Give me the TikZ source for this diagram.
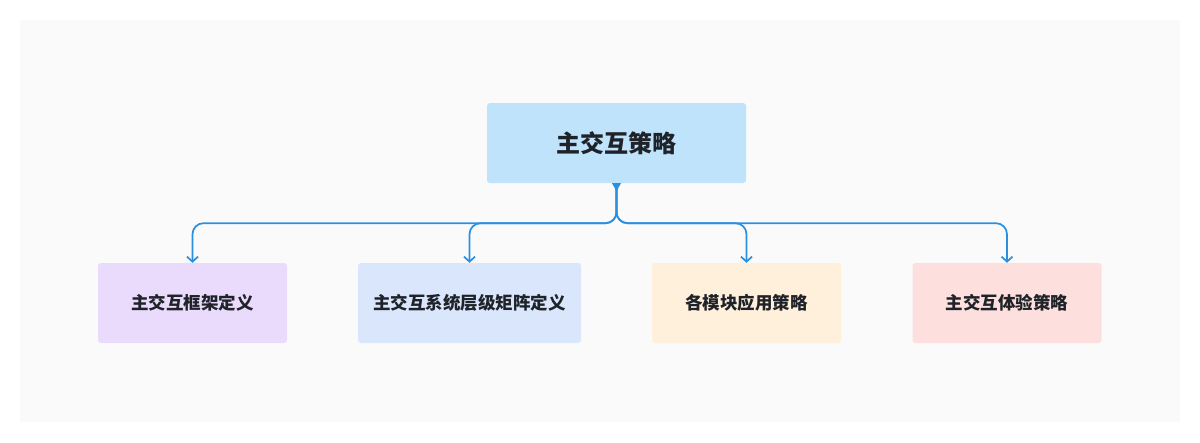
\documentclass[tikz,border=0pt]{standalone}
\usepackage{fontspec}
\newfontfamily\cjk{Noto Sans CJK SC}
\usepackage{tikz}
\usetikzlibrary{arrows.meta, positioning, calc}
\usepackage{xcolor}

\definecolor{bggray}{HTML}{FAFAFA}
\definecolor{linkblue}{HTML}{2B8FE0}
\definecolor{textdark}{HTML}{1F2329}
\definecolor{topblue}{HTML}{C0E3FC}
\definecolor{lavender}{HTML}{EADBFC}
\definecolor{paleblue}{HTML}{DAE6FB}
\definecolor{paleorange}{HTML}{FEF0DB}
\definecolor{palepink}{HTML}{FDE0DD}

\begin{document}
\begin{tikzpicture}[x=1pt, y=-1pt,
    box/.style={rectangle, rounded corners=3pt, minimum width=189pt, minimum height=80pt, inner sep=0pt, align=center, text=textdark, font=\cjk\bfseries\fontsize{17.5}{22}\selectfont},
    link/.style={-{Straight Barb[length=5pt, width=11pt]}, draw=linkblue, line width=1.7pt, rounded corners=11pt}
]
    \useasboundingbox (0,0) rectangle (1200,442);
    \fill[bggray] (20,20) rectangle (1180,422);

    \node[box, fill=topblue, minimum width=259pt, font=\cjk\bfseries\fontsize{24}{28}\selectfont] (top) at (616.5,143) {主交互策略};
    \node[box, fill=lavender] (frame) at (192.5,303) {主交互框架定义};
    \node[box, fill=paleblue, minimum width=223pt] (matrix) at (469.5,303) {主交互系统层级矩阵定义};
    \node[box, fill=paleorange] (module) at (746.5,303) {各模块应用策略};
    \node[box, fill=palepink] (experience) at (1007,303) {主交互体验策略};

    \coordinate (bus) at ($(top.south)+(0,40)$);
    \foreach \child in {frame, matrix, module, experience}
        \draw[link] (top.south) |- (bus -| \child.north) -- (\child.north);
    \fill[linkblue] ($(top.south)+(-4.5,0)$) -- ($(top.south)+(4.5,0)$) -- ($(top.south)+(0,8)$) -- cycle;
\end{tikzpicture}
\end{document}
